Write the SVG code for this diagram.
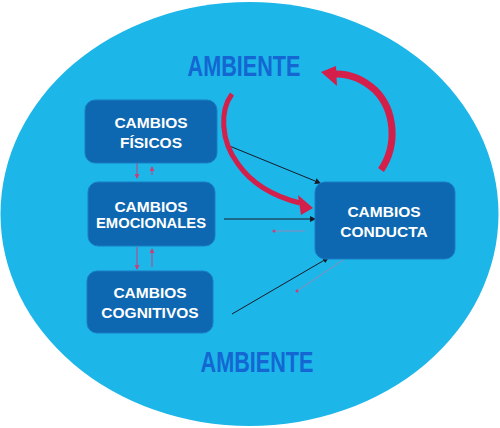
<svg xmlns="http://www.w3.org/2000/svg" width="500" height="428" viewBox="0 0 500 428">
<style>
.box{fill:#0d68b1;stroke:#1a7cc4;stroke-width:1}
.t{font-family:"Liberation Sans",Arial,sans-serif;font-weight:bold;font-size:15.5px;fill:#ffffff;text-anchor:middle}
.amb{font-family:"Liberation Sans",Arial,sans-serif;font-weight:bold;font-size:30px;fill:#1466d2;text-anchor:middle}
.k{stroke:#1a1a2a;stroke-width:1;fill:none}
.p{stroke:#c8407a;stroke-width:1;fill:none}
.pf{stroke:#d6709e;stroke-width:0.8;fill:none;opacity:0.8}
.redh{fill:#d41f4a}
</style>
<defs>
<marker id="ak" markerWidth="6" markerHeight="6" refX="5" refY="3" orient="auto" markerUnits="userSpaceOnUse"><path d="M0,0 L6,3 L0,6 Z" fill="#1a1a2a"/></marker>
<marker id="ap" markerWidth="5" markerHeight="5" refX="4" refY="2.5" orient="auto" markerUnits="userSpaceOnUse"><path d="M0,0 L5,2.5 L0,5 Z" fill="#c8407a"/></marker>
</defs>
<rect width="500" height="428" fill="#ffffff"/>
<ellipse cx="249.5" cy="214" rx="249" ry="212" fill="#1cb6e8"/>
<g id="ambiente-top"><text class="amb" x="244" y="76" textLength="113" lengthAdjust="spacingAndGlyphs">AMBIENTE</text></g>
<g id="ambiente-bottom"><text class="amb" x="257" y="372" textLength="113" lengthAdjust="spacingAndGlyphs">AMBIENTE</text></g>
<g id="connectors">
<line class="k" x1="227" y1="145" x2="320" y2="183" marker-end="url(#ak)"/>
<line class="k" x1="224" y1="219" x2="315" y2="219" marker-end="url(#ak)"/>
<line class="k" x1="232" y1="314" x2="328" y2="258" marker-end="url(#ak)"/>
<line class="pf" x1="274" y1="231" x2="305" y2="231"/>
<circle cx="274" cy="231" r="1.5" fill="#c8407a"/>
<line class="pf" x1="297" y1="291" x2="343" y2="260"/>
<circle cx="297" cy="291" r="1.5" fill="#c8407a"/>
<line class="p" x1="137" y1="163" x2="137" y2="178" marker-end="url(#ap)"/>
<line class="p" x1="152" y1="175" x2="152" y2="167" marker-end="url(#ap)"/>
<line class="p" x1="137" y1="247" x2="137" y2="269" marker-end="url(#ap)"/>
<line class="p" x1="152" y1="267" x2="152" y2="249" marker-end="url(#ap)"/>
<path d="M232,94 C220,110 220,140 238,164 C252,184 272,196 300,203" fill="none" stroke="#d41f4a" stroke-width="5"/>
<polygon class="redh" points="298,195 313,208 301,215"/>
<path d="M381,170 C398,145 395,110 375,90 C362,78 348,73 333,74" fill="none" stroke="#d41f4a" stroke-width="7"/>
<polygon class="redh" points="336,66 321,72 337,86"/>
</g>
<g id="fisicos"><rect class="box" x="85" y="100" width="132" height="63" rx="10"/><text class="t" x="151" y="128">CAMBIOS</text><text class="t" x="151" y="148">FÍSICOS</text></g>
<g id="emocionales"><rect class="box" x="88" y="182" width="127" height="64" rx="10"/><text class="t" x="151" y="212">CAMBIOS</text><text class="t" x="151" y="228" textLength="110" lengthAdjust="spacingAndGlyphs">EMOCIONALES</text></g>
<g id="cognitivos"><rect class="box" x="87" y="271" width="126" height="62" rx="10"/><text class="t" x="150" y="298">CAMBIOS</text><text class="t" x="150" y="318">COGNITIVOS</text></g>
<g id="conducta"><rect class="box" x="315" y="182" width="140" height="77" rx="10"/><text class="t" x="384" y="217">CAMBIOS</text><text class="t" x="384" y="237">CONDUCTA</text></g>
</svg>
